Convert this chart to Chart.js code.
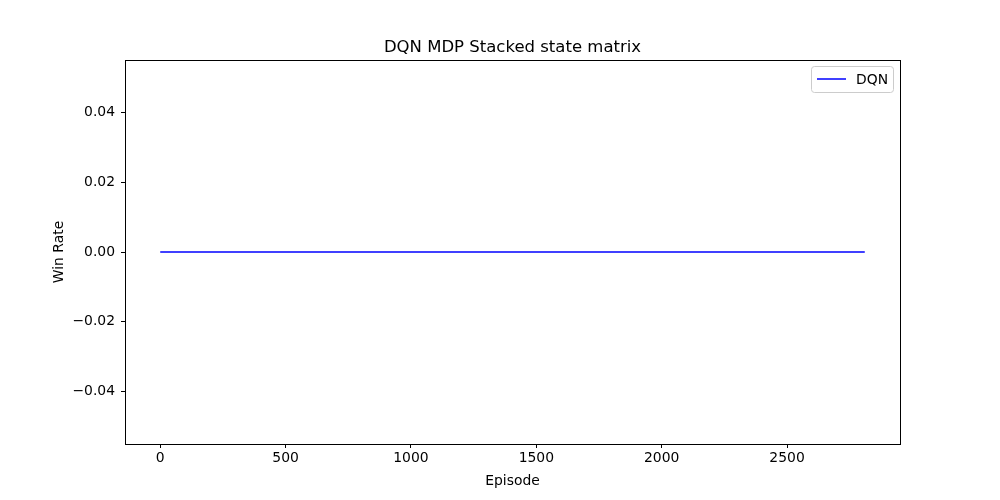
<!DOCTYPE html>
<html><head><script src="https://cdn.jsdelivr.net/npm/chart.js@4"></script>
<style>body{margin:0;background:#fff}#w{width:1000px;height:500px}</style></head>
<body><div id="w"><canvas id="c"></canvas></div>
<script>
const episodes=[0,2810];
const winRate=[0,0];
const xTicks=[0,500,1000,1500,2000,2500];
const yTicks=[-0.04,-0.02,0,0.02,0.04];
const F='DejaVu Sans';
const deco={id:'deco',afterDraw(c){const a=c.chartArea,x=c.ctx;x.save();
x.strokeStyle='#000';x.lineWidth=1;x.strokeRect(a.left+0.5,a.top+0.5,a.right-a.left,a.bottom-a.top);
x.fillStyle='#000';x.font='16.5px '+F;x.textAlign='center';x.textBaseline='alphabetic';x.fillText('DQN MDP Stacked state matrix',(a.left+a.right)/2,52);
x.font='13.9px '+F;x.fillText('Episode',(a.left+a.right)/2,485);
x.save();x.translate(63,(a.top+a.bottom)/2);x.rotate(-Math.PI/2);x.fillText('Win Rate',0,0);x.restore();
x.strokeStyle='#ccc';x.fillStyle='#fff';x.beginPath();x.roundRect(811.5,66.5,82,26,3);x.fill();x.stroke();
x.strokeStyle='#0000ff';x.lineWidth=1.5;x.beginPath();x.moveTo(817,79);x.lineTo(846,79);x.stroke();
x.fillStyle='#000';x.textAlign='left';x.textBaseline='middle';x.fillText('DQN',856,80);x.restore();}};
new Chart(document.getElementById('c'),{type:'line',
data:{datasets:[{data:episodes.map((e,i)=>({x:e,y:winRate[i]})),borderColor:'#0000ff',borderWidth:1.5,pointRadius:0,tension:0}]},
options:{responsive:true,maintainAspectRatio:false,animation:false,
layout:{padding:{left:0,right:100,top:60,bottom:0}},
plugins:{legend:{display:false},title:{display:false},tooltip:{enabled:false}},
scales:{
x:{type:'linear',min:-140.5,max:2950.5,afterBuildTicks(s){s.ticks=xTicks.map(v=>({value:v}));},afterFit(s){s.height=56;},
grid:{drawOnChartArea:false,tickLength:4,color:'#000'},border:{display:false},
ticks:{color:'#000',font:{family:F,size:13.9},padding:2,maxRotation:0,callback:v=>String(v)}},
y:{min:-0.055,max:0.055,afterBuildTicks(s){s.ticks=yTicks.map(v=>({value:v}));},afterFit(s){s.width=125;},
grid:{drawOnChartArea:false,tickLength:4,color:'#000'},border:{display:false},
ticks:{color:'#000',font:{family:F,size:13.9},padding:6,callback:v=>v.toFixed(2).replace('-','\u2212').replace('\u22120.00','0.00')}}}},
plugins:[deco]});
</script></body></html>
